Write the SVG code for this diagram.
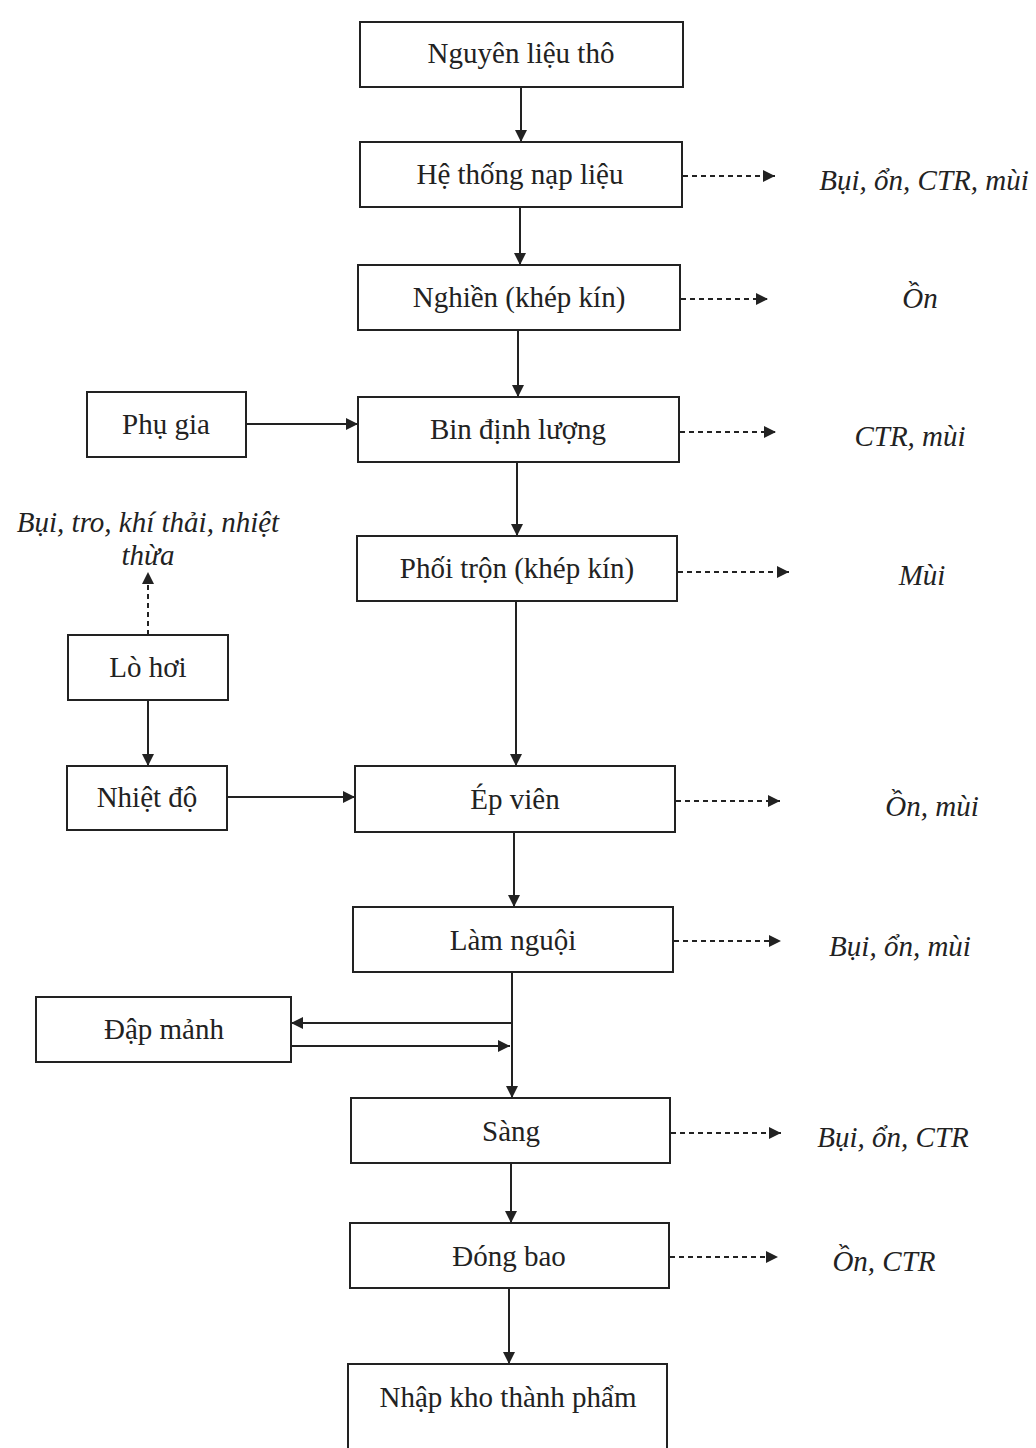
<svg xmlns="http://www.w3.org/2000/svg" width="1036" height="1448" viewBox="0 0 1036 1448">
<style>
.box{fill:#fff;stroke:#222;stroke-width:2}
.t{font-family:"Liberation Serif","DejaVu Serif",serif;font-size:29px;fill:#222;text-anchor:middle}
.l{font-family:"Liberation Serif","DejaVu Serif",serif;font-size:29px;font-style:italic;fill:#222;text-anchor:middle}
.c{fill:none;stroke:#222;stroke-width:2}
.d{fill:none;stroke:#222;stroke-width:2;stroke-dasharray:5,4}
</style>
<defs>
<marker id="b" viewBox="0 0 10 10" refX="10" refY="5" markerWidth="14" markerHeight="12" orient="auto" markerUnits="userSpaceOnUse">
<path d="M0,0 L10,5 L0,10 z" fill="#222"/>
</marker>
</defs>
<rect width="1036" height="1448" fill="#fff"/>
<g id="connectors">
<path class="c" d="M521,87 V142" marker-end="url(#b)"/>
<path class="c" d="M520,207 V265" marker-end="url(#b)"/>
<path class="c" d="M518,330 V397" marker-end="url(#b)"/>
<path class="c" d="M517,462 V536" marker-end="url(#b)"/>
<path class="c" d="M516,601 V766" marker-end="url(#b)"/>
<path class="c" d="M514,832 V907" marker-end="url(#b)"/>
<path class="c" d="M512,972 V1098" marker-end="url(#b)"/>
<path class="c" d="M511,1163 V1223" marker-end="url(#b)"/>
<path class="c" d="M509,1288 V1364" marker-end="url(#b)"/>
<path class="c" d="M246,424 H358" marker-end="url(#b)"/>
<path class="c" d="M227,797 H355" marker-end="url(#b)"/>
<path class="c" d="M148,700 V766" marker-end="url(#b)"/>
<path class="d" d="M148,635 V572" marker-end="url(#b)"/>
<path class="c" d="M512,1023 H291" marker-end="url(#b)"/>
<path class="c" d="M291,1046 H510" marker-end="url(#b)"/>
<path class="d" d="M683,176 H775" marker-end="url(#b)"/>
<path class="d" d="M681,299 H768" marker-end="url(#b)"/>
<path class="d" d="M680,432 H776" marker-end="url(#b)"/>
<path class="d" d="M678,572 H789" marker-end="url(#b)"/>
<path class="d" d="M676,801 H780" marker-end="url(#b)"/>
<path class="d" d="M674,941 H781" marker-end="url(#b)"/>
<path class="d" d="M671,1133 H781" marker-end="url(#b)"/>
<path class="d" d="M670,1257 H778" marker-end="url(#b)"/>
</g>
<g id="n1"><rect class="box" x="360" y="22" width="323" height="65"/><text class="t" x="521" y="63">Nguyên liệu thô</text></g>
<g id="n2"><rect class="box" x="360" y="142" width="322" height="65"/><text class="t" x="520" y="184">Hệ thống nạp liệu</text></g>
<g id="n3"><rect class="box" x="358" y="265" width="322" height="65"/><text class="t" x="519" y="307">Nghiền (khép kín)</text></g>
<g id="n4"><rect class="box" x="358" y="397" width="321" height="65"/><text class="t" x="518" y="439">Bin định lượng</text></g>
<g id="n5"><rect class="box" x="357" y="536" width="320" height="65"/><text class="t" x="517" y="578">Phối trộn (khép kín)</text></g>
<g id="n6"><rect class="box" x="355" y="766" width="320" height="66"/><text class="t" x="515" y="809">Ép viên</text></g>
<g id="n7"><rect class="box" x="353" y="907" width="320" height="65"/><text class="t" x="513" y="950">Làm nguội</text></g>
<g id="n8"><rect class="box" x="351" y="1098" width="319" height="65"/><text class="t" x="511" y="1141">Sàng</text></g>
<g id="n9"><rect class="box" x="350" y="1223" width="319" height="65"/><text class="t" x="509" y="1266">Đóng bao</text></g>
<g id="n10"><rect class="box" x="348" y="1364" width="319" height="90"/><text class="t" x="508" y="1407">Nhập kho thành phẩm</text></g>
<g id="phugia"><rect class="box" x="87" y="392" width="159" height="65"/><text class="t" x="166" y="434">Phụ gia</text></g>
<g id="lohoi"><rect class="box" x="68" y="635" width="160" height="65"/><text class="t" x="148" y="677">Lò hơi</text></g>
<g id="nhietdo"><rect class="box" x="67" y="766" width="160" height="64"/><text class="t" x="147" y="807">Nhiệt độ</text></g>
<g id="dapmanh"><rect class="box" x="36" y="997" width="255" height="65"/><text class="t" x="164" y="1039">Đập mảnh</text></g>
<g id="labels">
<text class="l" x="148" y="532">Bụi, tro, khí thải, nhiệt</text>
<text class="l" x="148" y="565">thừa</text>
<text class="l" x="924" y="190">Bụi, ổn, CTR, mùi</text>
<text class="l" x="920" y="308">Ồn</text>
<text class="l" x="910" y="446">CTR, mùi</text>
<text class="l" x="922" y="585">Mùi</text>
<text class="l" x="932" y="816">Ồn, mùi</text>
<text class="l" x="900" y="956">Bụi, ổn, mùi</text>
<text class="l" x="893" y="1147">Bụi, ổn, CTR</text>
<text class="l" x="884" y="1271">Ồn, CTR</text>
</g>
</svg>
